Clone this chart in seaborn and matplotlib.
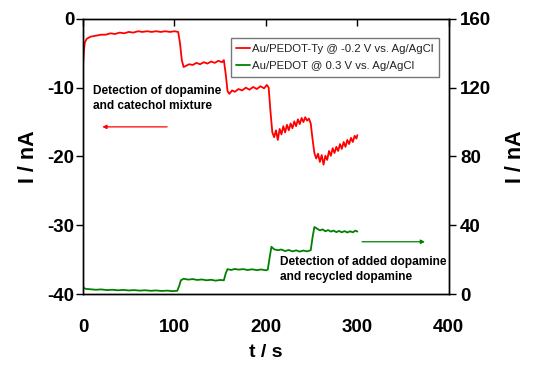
import numpy as np
import pandas as pd
import seaborn as sns
import matplotlib.pyplot as plt

# red trace: Au/PEDOT-Ty, left axis (nA)
red_t = [0, 1, 2, 4, 8, 12, 16, 20, 25, 30, 35, 40, 45, 50, 55, 60, 65, 70, 75, 80,
         85, 90, 95, 100, 104, 106, 108, 110, 113, 116, 120, 124, 128, 132, 136, 140,
         144, 148, 152, 154, 156, 158, 160, 163, 166, 170, 174, 178, 182, 186, 190,
         194, 198, 201, 203, 205, 207, 209, 211, 213, 215, 217, 219, 221, 223, 225,
         227, 229, 231, 233, 235, 237, 239, 241, 243, 245, 247, 249, 251, 253, 255,
         257, 259, 261, 263, 265, 267, 269, 271, 273, 275, 277, 279, 281, 283, 285,
         287, 289, 291, 293, 295, 297, 299, 300]
red_i = [-6.7, -4.5, -3.4, -2.9, -2.6, -2.5, -2.4, -2.3, -2.3, -2.1, -2.2, -2.0, -2.1,
         -1.9, -2.0, -1.8, -1.9, -1.8, -1.9, -1.8, -1.9, -1.8, -1.9, -1.8, -1.9, -3.5,
         -6.0, -7.0, -6.8, -6.6, -6.7, -6.4, -6.6, -6.3, -6.5, -6.2, -6.4, -6.1, -6.3,
         -6.0, -8.0, -10.5, -10.9, -10.4, -10.6, -10.2, -10.4, -10.0, -10.3, -9.9,
         -10.2, -9.8, -10.1, -9.6, -10.0, -13.5, -16.5, -17.2, -16.2, -17.6, -16.0,
         -16.8, -15.6, -16.5, -15.4, -16.2, -15.2, -15.9, -14.9, -15.6, -14.6, -15.3,
         -14.4, -15.0, -14.3, -14.8, -14.5, -15.2, -17.5, -19.5, -20.3, -19.6, -20.8,
         -19.8, -21.2, -19.9, -20.5, -19.2, -19.9, -18.8, -19.5, -18.6, -19.2, -18.2,
         -18.9, -17.9, -18.6, -17.6, -18.2, -17.3, -17.9, -17.0, -17.4, -16.9]

# green trace: Au/PEDOT, right axis (nA)
green_t = [0, 1, 3, 8, 14, 20, 26, 32, 38, 44, 50, 56, 62, 68, 74, 80, 86, 92, 98, 103,
           105, 107, 110, 115, 120, 125, 130, 135, 140, 145, 150, 154, 156, 158, 162,
           166, 170, 175, 180, 185, 190, 195, 200, 202, 204, 206, 209, 213, 217, 221,
           225, 229, 233, 237, 241, 245, 249, 251, 253, 256, 259, 262, 265, 268, 271,
           274, 277, 280, 283, 286, 289, 292, 295, 298, 300]
green_i = [4.5, 3.5, 3.0, 2.8, 2.5, 2.7, 2.3, 2.5, 2.2, 2.4, 2.1, 2.3, 2.0, 2.2, 1.9,
           2.1, 1.8, 2.0, 1.7, 1.9, 4.5, 8.0, 8.9, 8.4, 8.7, 8.2, 8.5, 8.0, 8.3, 7.8,
           8.2, 8.0, 12.0, 14.5, 14.0, 14.6, 14.2, 14.5, 14.0, 14.4, 13.9, 14.3, 13.8,
           14.2, 21.0, 27.5, 26.0, 25.5, 25.9, 25.0, 25.6, 24.8, 25.4, 24.7, 25.3,
           24.8, 25.5, 33.0, 39.0, 38.0, 37.0, 37.6, 36.5, 37.2, 36.3, 36.9, 36.0,
           36.7, 35.9, 36.6, 35.8, 36.5, 35.9, 36.9, 36.3]

x_ticks = [0, 100, 200, 300, 400]
left_ticks = [-40, -30, -20, -10, 0]
right_ticks = [0, 40, 80, 120, 160]

red_label = 'Au/PEDOT-Ty @ -0.2 V vs. Ag/AgCl'
green_label = 'Au/PEDOT @ 0.3 V vs. Ag/AgCl'

sns.set_style('ticks')
plt.rcParams['font.family'] = ['Liberation Sans', 'DejaVu Sans']
plt.rcParams['axes.unicode_minus'] = False
plt.rcParams['text.color'] = 'black'
plt.rcParams['axes.labelcolor'] = 'black'
plt.rcParams['xtick.color'] = 'black'
plt.rcParams['ytick.color'] = 'black'

fig = plt.figure(figsize=(5.5, 3.77), dpi=100)
ax = fig.add_axes([0.151, 0.220, 0.665, 0.730])
ax2 = ax.twinx()

red_df = pd.DataFrame({'t': red_t, 'i': red_i})
green_df = pd.DataFrame({'t': green_t, 'i': green_i})
sns.lineplot(data=red_df, x='t', y='i', ax=ax, color='#ff0000', linewidth=1.3,
             label=red_label, legend=False)
sns.lineplot(data=green_df, x='t', y='i', ax=ax2, color='#008000', linewidth=1.3,
             label=green_label, legend=False)

ax.set_xlim(0, 400)
ax.set_ylim(-40, 0)
ax2.set_ylim(0, 160)
ax.set_xticks(x_ticks)
ax.set_yticks(left_ticks)
ax2.set_yticks(right_ticks)

for a in (ax, ax2):
    for s in a.spines.values():
        s.set_visible(True)
        s.set_color('black')
        s.set_linewidth(1.0)

ax.tick_params(axis='y', direction='out', length=5, width=1, pad=1, labelsize=13.5)
ax.tick_params(axis='x', bottom=False, top=True, direction='in', length=5, width=1,
               labelsize=13.5, pad=18)
ax2.tick_params(axis='y', direction='out', length=5, width=1, pad=3, labelsize=13.5)
for lbl in ax.get_xticklabels() + ax.get_yticklabels() + ax2.get_yticklabels():
    lbl.set_fontweight('bold')

ax.set_xlabel('t / s', fontsize=14, fontweight='bold', labelpad=6)
ax.set_ylabel('I / nA', fontsize=15.5, fontweight='bold', labelpad=6)
ax2.set_ylabel('I / nA', fontsize=15.5, fontweight='bold', labelpad=10)

h1, l1 = ax.get_legend_handles_labels()
h2, l2 = ax2.get_legend_handles_labels()
leg = ax2.legend(h1 + h2, l1 + l2, loc='upper right', bbox_to_anchor=(0.99, 0.95),
                 fontsize=8.2, frameon=True, fancybox=False, handlelength=1.2,
                 handletextpad=0.2, borderpad=0.5, labelspacing=0.6)
leg.get_frame().set_edgecolor('#555555')
leg.get_frame().set_linewidth(1.0)
for txt in leg.get_texts():
    txt.set_color('#222222')

ax.text(11, -9.6, 'Detection of dopamine\nand catechol mixture', fontsize=8.6,
        fontweight='bold', va='top', ha='left', linespacing=1.3)
ax.annotate('', xy=(18, -15.7), xytext=(95, -15.7),
            arrowprops=dict(arrowstyle='-|>', color='#ff0000', lw=0.9,
                            mutation_scale=6))
ax.text(215, -34.5, 'Detection of added dopamine\nand recycled dopamine', fontsize=8.6,
        fontweight='bold', va='top', ha='left', linespacing=1.3)
ax.annotate('', xy=(377, -32.4), xytext=(302, -32.4),
            arrowprops=dict(arrowstyle='-|>', color='#008000', lw=0.9,
                            mutation_scale=6))

fig.savefig('out.png', dpi=100)
